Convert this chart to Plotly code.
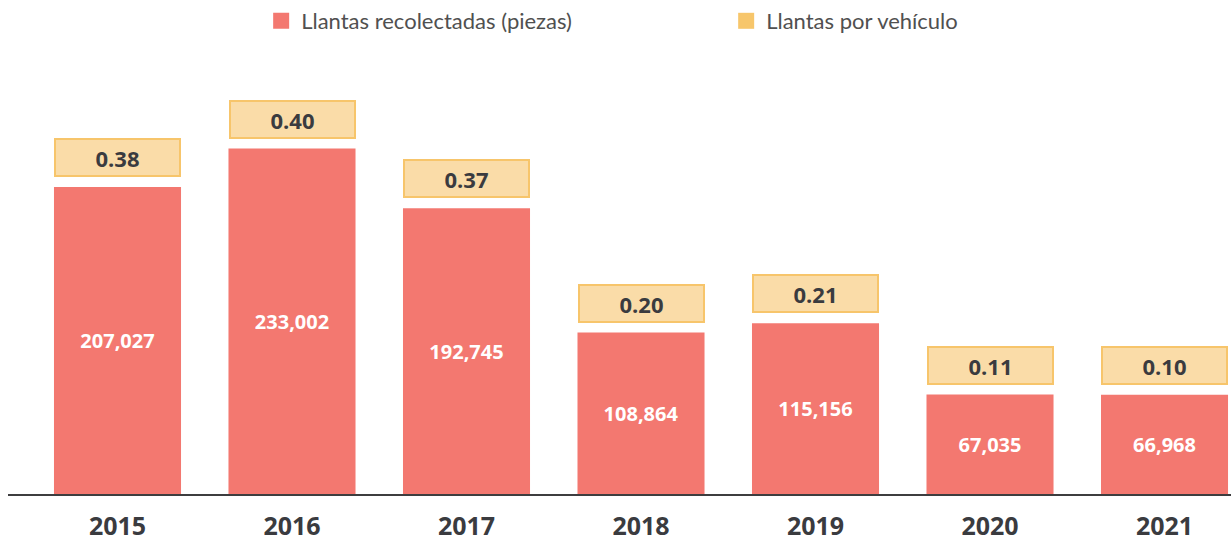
import plotly.graph_objects as go

years = ["2015", "2016", "2017", "2018", "2019", "2020", "2021"]
llantas = [207027, 233002, 192745, 108864, 115156, 67035, 66968]
por_vehiculo = [0.38, 0.40, 0.37, 0.20, 0.21, 0.11, 0.10]

BAR = "#F37870"
BOX_FILL = "#FADCA8"
BOX_LINE = "#F7C56B"
DARK = "#3A3B3F"

fig = go.Figure()
fig.add_trace(go.Bar(
    x=years, y=llantas, marker=dict(color=BAR, line=dict(width=0)),
    width=0.728, showlegend=False,
    texttemplate="%{y:,}", textposition="inside", insidetextanchor="middle",
    textangle=0, constraintext="none",
    textfont=dict(family="Open Sans", size=20, color="white", weight="bold"),
    hoverinfo="skip",
))
fig.add_trace(go.Scatter(
    x=[None], y=[None], mode="markers", name="Llantas recolectadas (piezas)",
    marker=dict(symbol="square", size=22, color=BAR),
))
fig.add_trace(go.Scatter(
    x=[None], y=[None], mode="markers", name="Llantas por vehículo",
    marker=dict(symbol="square", size=22, color="#F7C66B"),
))

# category axis: annotation x uses the category's serial index
for i, (v, r) in enumerate(zip(llantas, por_vehiculo)):
    fig.add_annotation(
        x=i, y=v, xref="x", yref="y", yanchor="bottom", yshift=10,
        text=f"<b>{r:.2f}</b>", showarrow=False,
        width=123, height=35, bgcolor=BOX_FILL, bordercolor=BOX_LINE,
        borderwidth=2, borderpad=0,
        font=dict(family="Open Sans", size=22, color=DARK),
    )

fig.update_layout(
    width=1231, height=542,
    margin=dict(l=8, r=0, t=59, b=45),
    paper_bgcolor="white", plot_bgcolor="white",
    barmode="overlay",
    legend=dict(orientation="h", x=0.207, xanchor="left", y=1.1, yanchor="middle",
                entrywidth=420,
                font=dict(family="Lato", size=22, color="#505050")),
    xaxis=dict(type="category", categoryorder="array", categoryarray=years,
               range=[-0.6275, 6.381], showline=True, linecolor="#3D3D3F", linewidth=2,
               showgrid=False, zeroline=False, ticks="", ticklabelstandoff=9,
               tickfont=dict(family="Open Sans", size=25, color=DARK, weight="bold"),
               fixedrange=True),
    yaxis=dict(range=[0, 290000], visible=False, showgrid=False, zeroline=False,
               fixedrange=True),
)

fig.write_html("out.html", config={"displayModeBar": False},
               post_script="document.body.style.margin='0';")
